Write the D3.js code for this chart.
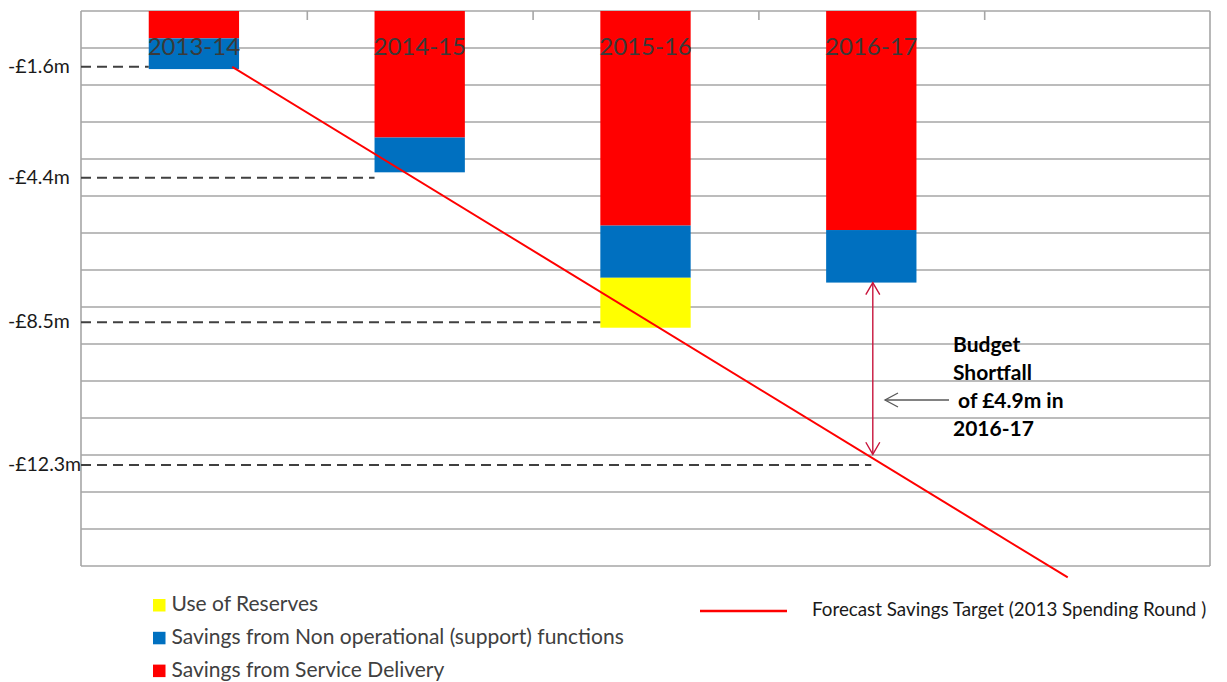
<!DOCTYPE html>
<head>
  <meta charset="utf-8">
  <script src="https://d3js.org/d3.v7.min.js"></script>
  <style>
    body { margin:0; background:#fff; }
    text { font-family: Lato, "Open Sans", sans-serif; }
  </style>
</head>
<body>
<div id="figure"></div>
<script>
  // values in £m (negative = savings)
  var categories = ["2013-14", "2014-15", "2015-16", "2016-17"];
  var serviceDelivery = [0.74, 3.42, 5.80, 5.92];
  var nonOperational  = [0.83, 0.94, 1.41, 1.42];
  var useOfReserves   = [0, 0, 1.35, 0];

  // dashed reference lines (label, level, where the dash stops in slot units)
  var refLabels = ["-£1.6m", "-£4.4m", "-£8.5m", "-£12.3m"];
  var refLevels = [-1.51, -4.51, -8.41, -12.27];
  var refEnds   = [0.3, 1.3, 2.3, 3.5];

  // forecast savings target, straight line (slot position, £m)
  var targetPos = [0.67, 4.37];
  var targetVal = [-1.51, -15.31];

  // shortfall arrow in 2016-17
  var shortfallFrom = -7.34, shortfallTo = -11.98;
  var shortfallText = ["Budget", "Shortfall", " of £4.9m in", "2016-17"];

  var legendNames  = ["Use of Reserves", "Savings from Non operational (support) functions", "Savings from Service Delivery"];
  var legendColors = ["#ffff00", "#0070c0", "#ff0000"];
  var lineLegend = "Forecast Savings Target (2013 Spending Round )";

  var W = 1227, H = 682;
  var plotL = 81, plotR = 1210, plotT = 11, plotB = 566;

  var svg = d3.select("#figure").append("svg")
    .attr("width", W).attr("height", H);

  var slot = d3.scaleLinear().domain([0, 5]).range([plotL, plotR]);
  var y = d3.scaleLinear().domain([0, -15]).range([plotT, plotB]);

  // gridlines every £1m
  svg.append("g").selectAll("line")
    .data(d3.range(0, -16, -1))
    .enter().append("line")
    .attr("x1", plotL).attr("x2", plotR)
    .attr("y1", function(d) { return y(d); })
    .attr("y2", function(d) { return y(d); })
    .attr("stroke", "#a6a6a6").attr("stroke-width", 1.6);

  // left / right frame
  svg.append("line").attr("x1", plotL).attr("x2", plotL).attr("y1", plotT).attr("y2", plotB)
    .attr("stroke", "#a6a6a6").attr("stroke-width", 1.6);
  svg.append("line").attr("x1", plotR).attr("x2", plotR).attr("y1", plotT).attr("y2", plotB)
    .attr("stroke", "#a6a6a6").attr("stroke-width", 1.6);

  // category axis sits at 0 (top), ticks pointing down
  var xAxis = d3.axisBottom(slot).tickValues([1, 2, 3, 4]).tickSize(9).tickFormat("");
  var ax = svg.append("g").attr("transform", "translate(0," + plotT + ")").call(xAxis);
  ax.select(".domain").remove();
  ax.selectAll(".tick line").attr("stroke", "#a6a6a6").attr("stroke-width", 1.6);

  // stacked bars
  var stacks = categories.map(function(c, i) {
    return [serviceDelivery[i], nonOperational[i], useOfReserves[i]];
  });
  var segColors = ["#ff0000", "#0070c0", "#ffff00"];
  var barW = slot(0.4) - slot(0);

  stacks.forEach(function(s, i) {
    var start = 0;
    s.forEach(function(v, k) {
      if (v > 0) {
        svg.append("rect")
          .attr("x", slot(i + 0.3))
          .attr("y", y(-start))
          .attr("width", barW)
          .attr("height", y(-(start + v)) - y(-start))
          .attr("fill", segColors[k]);
      }
      start += v;
    });
  });

  // category labels inside the bars
  svg.selectAll(".cat").data(categories).enter().append("text")
    .attr("class", "cat")
    .attr("x", function(d, i) { return slot(i + 0.5); })
    .attr("y", 55)
    .attr("text-anchor", "middle")
    .attr("font-size", 24)
    .attr("fill", "#3a3a3a")
    .text(function(d) { return d; });

  // dashed reference lines + labels
  refLevels.forEach(function(v, i) {
    svg.append("line")
      .attr("x1", plotL).attr("x2", slot(refEnds[i]))
      .attr("y1", y(v)).attr("y2", y(v))
      .attr("stroke", "#404040").attr("stroke-width", 2)
      .attr("stroke-dasharray", "10,6");
    svg.append("text")
      .attr("x", 8).attr("y", y(v) + 6)
      .attr("font-size", 19.5)
      .attr("fill", "#1a1a1a")
      .text(refLabels[i]);
  });

  // forecast target line
  var line = d3.line()
    .x(function(d) { return slot(d[0]); })
    .y(function(d) { return y(d[1]); });
  svg.append("path")
    .datum(d3.zip(targetPos, targetVal))
    .attr("d", line)
    .attr("fill", "none")
    .attr("stroke", "#ff0000")
    .attr("stroke-width", 2);

  // shortfall double arrow
  var ax0 = slot(3.5) + 1.5, ya = y(shortfallFrom), yb = y(shortfallTo);
  var crimson = "#c8143c";
  svg.append("line").attr("x1", ax0).attr("x2", ax0).attr("y1", ya).attr("y2", yb)
    .attr("stroke", crimson).attr("stroke-width", 1.4);
  svg.append("path")
    .attr("d", "M" + (ax0 - 7) + "," + (ya + 12) + "L" + ax0 + "," + ya + "L" + (ax0 + 7) + "," + (ya + 12))
    .attr("fill", "none").attr("stroke", crimson).attr("stroke-width", 1.4);
  svg.append("path")
    .attr("d", "M" + (ax0 - 7) + "," + (yb - 12) + "L" + ax0 + "," + yb + "L" + (ax0 + 7) + "," + (yb - 12))
    .attr("fill", "none").attr("stroke", crimson).attr("stroke-width", 1.4);

  // pointer arrow to the shortfall
  var py = 400, px0 = 949, px1 = 885;
  svg.append("line").attr("x1", px0).attr("x2", px1).attr("y1", py).attr("y2", py)
    .attr("stroke", "#595959").attr("stroke-width", 1.3);
  svg.append("path")
    .attr("d", "M" + (px1 + 13) + "," + (py - 7) + "L" + px1 + "," + py + "L" + (px1 + 13) + "," + (py + 7))
    .attr("fill", "none").attr("stroke", "#595959").attr("stroke-width", 1.3);

  svg.append("g").selectAll("text").data(shortfallText).enter().append("text")
    .attr("x", 953)
    .attr("y", function(d, i) { return 352 + i * 28; })
    .attr("font-size", 21)
    .attr("font-weight", "bold")
    .attr("fill", "#000")
    .style("white-space", "pre")
    .text(function(d) { return d; });

  // legend
  var leg = svg.append("g").selectAll("g").data(legendNames).enter().append("g")
    .attr("transform", function(d, i) { return "translate(153," + (599 + i * 32.8) + ")"; });
  leg.append("rect").attr("width", 12.5).attr("height", 12.5)
    .attr("fill", function(d, i) { return legendColors[i]; });
  leg.append("text").attr("x", 18.5).attr("y", 12)
    .attr("font-size", 21).attr("fill", "#404040")
    .text(function(d) { return d; });

  svg.append("line").attr("x1", 700).attr("x2", 787).attr("y1", 611).attr("y2", 611)
    .attr("stroke", "#ff0000").attr("stroke-width", 2.5);
  svg.append("text").attr("x", 812).attr("y", 616)
    .attr("font-size", 18.8).attr("fill", "#1a1a1a")
    .text(lineLegend);
</script>
</body>
